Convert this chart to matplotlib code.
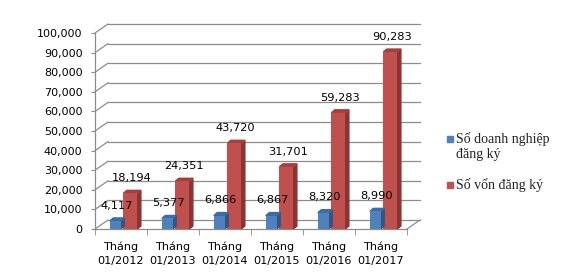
import matplotlib
matplotlib.use("Agg")
import matplotlib.pyplot as plt
from matplotlib.transforms import ScaledTranslation, IdentityTransform
from matplotlib.patches import Rectangle, Polygon

categories = ["Tháng\n01/2012", "Tháng\n01/2013", "Tháng\n01/2014",
              "Tháng\n01/2015", "Tháng\n01/2016", "Tháng\n01/2017"]
so_dn = [4117, 5377, 6866, 6867, 8320, 8990]
so_von = [18194, 24351, 43720, 31701, 59283, 90283]
yticks = list(range(0, 100001, 10000))
legend_labels = ["Số doanh nghiệp\nđăng ký", "Số vốn đăng ký"]

blue, blue_side, blue_top = "#4F81BD", "#2F5686", "#3D6BA3"
red, red_side, red_top = "#C0504D", "#8A3331", "#A33F3C"
grid_c = "#8C8C8C"

fig = plt.figure(figsize=(5.61, 2.75), dpi=100)
ax = fig.add_axes([95 / 561, 46 / 275, 312 / 561, 196 / 275])
ax.set_xlim(-0.5, 5.5)
ax.set_ylim(0, 100000)
ax.patch.set_alpha(0)

# back wall gridlines (3D look)
back = ax.transData + ScaledTranslation(0.13, 0.09, fig.dpi_scale_trans)
for v in yticks:
    ax.plot([-0.5, 5.5], [v, v], color=grid_c, lw=0.9, transform=back,
            clip_on=False, zorder=0)
    ax.annotate("", xy=(-0.5, v), xytext=(9.4, 6.5), textcoords="offset points",
                arrowprops=dict(arrowstyle="-", color=grid_c, lw=0.9,
                                shrinkA=0, shrinkB=0), annotation_clip=False)
ax.annotate("", xy=(5.5, 0), xytext=(9.4, 6.5), textcoords="offset points",
            arrowprops=dict(arrowstyle="-", color=grid_c, lw=0.9,
                            shrinkA=0, shrinkB=0), annotation_clip=False)

x = list(range(len(categories)))
xb = [i - 0.11 for i in x]
xr = [i + 0.18 for i in x]

dpx, dpy = 3.5, 3.0


def bars3d(xs, vals, w, front, side, top, z):
    rects = ax.bar(xs, vals, width=w, color=front, zorder=z + 1)
    for r in rects:
        (x0, y0), (x1, y1) = ax.transData.transform(
            [(r.get_x(), 0), (r.get_x() + r.get_width(), r.get_height())])
        ax.add_patch(Polygon([(x1, y0), (x1 + dpx, y0 + dpy), (x1 + dpx, y1 + dpy), (x1, y1)],
                             closed=True, color=side, transform=IdentityTransform(),
                             zorder=z))
        ax.add_patch(Polygon([(x0, y1), (x0 + dpx, y1 + dpy), (x1 + dpx, y1 + dpy), (x1, y1)],
                             closed=True, color=top, transform=IdentityTransform(),
                             zorder=z))


bars3d(xr, so_von, 0.27, red, red_side, red_top, 2)
bars3d(xb, so_dn, 0.21, blue, blue_side, blue_top, 4)

for xi, v in zip(xb, so_dn):
    ax.annotate(f"{v:,}", (xi, v), xytext=(1, 11), textcoords="offset points",
                ha="center", va="center", fontsize=8.2, zorder=6)
for xi, v in zip(xr, so_von):
    ax.annotate(f"{v:,}", (xi, v), xytext=(1, 11), textcoords="offset points",
                ha="center", va="center", fontsize=8.2, zorder=6)

for s in ["top", "right"]:
    ax.spines[s].set_visible(False)
for s in ["left", "bottom"]:
    ax.spines[s].set_color(grid_c)
    ax.spines[s].set_linewidth(0.9)

ax.set_yticks(yticks)
ax.set_yticklabels([f"{v:,}" for v in yticks], fontsize=8.0)
ax.tick_params(axis="y", length=3, color=grid_c, pad=6)
ax.set_xticks(x)
ax.set_xticklabels(categories, fontsize=8.1, linespacing=1.45)
ax.set_xticks([i - 0.5 for i in range(len(categories) + 1)], minor=True)
ax.tick_params(axis="x", which="major", length=0, pad=9)
ax.tick_params(axis="x", which="minor", length=4, color=grid_c)

# legend
for (lab, col, yc) in [(legend_labels[0], blue, 138), (legend_labels[1], red, 184)]:
    fig.add_artist(Rectangle((447 / 561, 1 - (yc + 3.5) / 275), 6 / 561, 6 / 275,
                             color=col, transform=fig.transFigure))
    fig.text(456 / 561, 1 - (yc - 6.5) / 275, lab, fontsize=10, family="Liberation Serif",
             va="top", ha="left", linespacing=1.2, color="#222222")

fig.savefig("out.png", dpi=100)
